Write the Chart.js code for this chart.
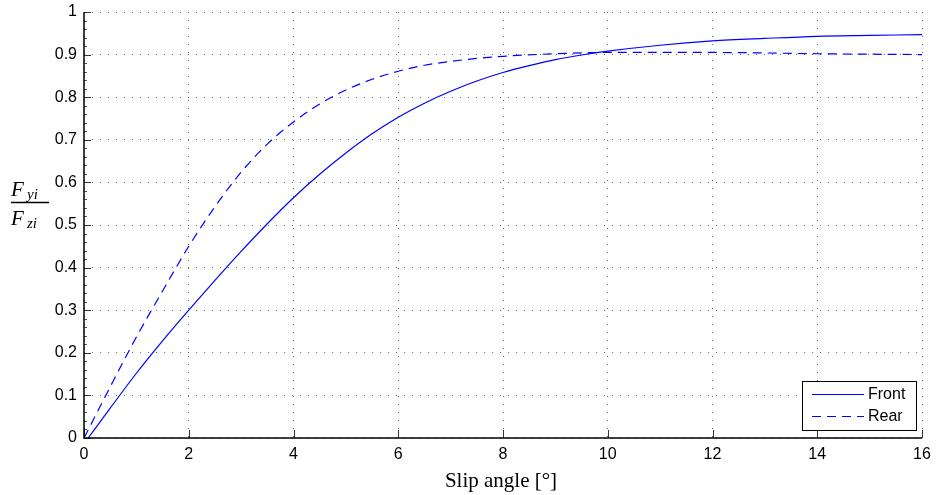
<!DOCTYPE html>
<html>
<head>
<meta charset="utf-8">
<script src="https://cdn.jsdelivr.net/npm/chart.js@4"></script>
<style>
  html, body { margin: 0; padding: 0; background: #fff; }
  #wrap { width: 936px; height: 495px; }
</style>
</head>
<body>
<div id="wrap"><canvas id="c"></canvas></div>
<script>
// slip angle [deg] and normalised lateral force
const angleFront = [0.08, 0.5, 1, 1.5, 2, 2.5, 3, 3.5, 4, 4.5, 5, 5.5, 6, 6.5, 7, 7.5, 8, 8.5, 9, 9.5, 10, 11, 12, 13, 14, 15, 16];
const front = [0, 0.07, 0.152, 0.228, 0.30, 0.37, 0.438, 0.503, 0.564, 0.619, 0.669, 0.714, 0.753, 0.786, 0.814, 0.838, 0.858, 0.874, 0.888, 0.899, 0.908, 0.922, 0.932, 0.938, 0.943, 0.945, 0.947];
const angleRear = [0, 0.5, 1, 1.5, 2, 2.5, 3, 3.5, 4, 4.5, 5, 5.5, 6, 6.5, 7, 7.5, 8, 9, 10, 12, 14, 16];
const rear = [0, 0.12, 0.237, 0.345, 0.45, 0.543, 0.624, 0.69, 0.742, 0.784, 0.817, 0.842, 0.861, 0.875, 0.884, 0.891, 0.896, 0.902, 0.905, 0.905, 0.902, 0.900];

const xTicks = [0, 2, 4, 6, 8, 10, 12, 14, 16];
const yTicks = [0, 0.1, 0.2, 0.3, 0.4, 0.5, 0.6, 0.7, 0.8, 0.9, 1];
const seriesNames = ["Front", "Rear"];

const BLUE = "#0000ff";
const SANS = '"Liberation Sans", Arial, sans-serif';
const SERIF = '"Liberation Serif", "DejaVu Serif", serif';

function pts(xs, ys) {
    return xs.map((x, i) => ({ x: x, y: ys[i] }));
}

// axes, inward ticks, y label fraction, x label, legend box
const decor = {
    id: "decor",
    afterDraw(chart) {
        const ctx = chart.ctx;
        const a = chart.chartArea;
        const xs = chart.scales.x;
        const ys = chart.scales.y;
        ctx.save();

        // minor ticks on y axis
        ctx.strokeStyle = "#555";
        ctx.lineWidth = 1;
        for (let k = 0; k <= 50; k++) {
            const py = Math.round(ys.getPixelForValue(k * 0.02)) + 0.5;
            ctx.beginPath();
            ctx.moveTo(a.left, py);
            ctx.lineTo(a.left + 3, py);
            ctx.stroke();
        }
        // major ticks
        ctx.strokeStyle = "#333";
        yTicks.forEach((v) => {
            const py = Math.round(ys.getPixelForValue(v)) + 0.5;
            ctx.beginPath();
            ctx.moveTo(a.left, py);
            ctx.lineTo(a.left + 7, py);
            ctx.stroke();
        });
        xTicks.forEach((v) => {
            const px = Math.round(xs.getPixelForValue(v)) + 0.5;
            ctx.beginPath();
            ctx.moveTo(px, a.bottom);
            ctx.lineTo(px, a.bottom - 8);
            ctx.stroke();
        });

        // axis lines (left + bottom only)
        ctx.strokeStyle = "#000";
        ctx.lineWidth = 1.5;
        ctx.beginPath();
        ctx.moveTo(a.left, a.top);
        ctx.lineTo(a.left, a.bottom);
        ctx.lineTo(a.right, a.bottom);
        ctx.stroke();

        // y label: F_yi / F_zi
        ctx.fillStyle = "#000";
        ctx.textBaseline = "alphabetic";
        ctx.textAlign = "left";
        ctx.font = "italic 21px " + SERIF;
        ctx.fillText("F", 11, 196);
        ctx.fillText("F", 11, 225);
        ctx.font = "italic 15px " + SERIF;
        ctx.fillText("yi", 27, 199);
        ctx.fillText("zi", 27, 228);
        ctx.lineWidth = 1.5;
        ctx.beginPath();
        ctx.moveTo(11, 202.5);
        ctx.lineTo(49, 202.5);
        ctx.stroke();

        // x label
        ctx.font = "21px " + SERIF;
        ctx.textAlign = "center";
        ctx.fillText("Slip angle [\u00B0]", (a.left + a.right) / 2 - 2, 487);

        // legend
        const bx = 802, by = 381, bw = 114, bh = 49;
        ctx.fillStyle = "#fff";
        ctx.fillRect(bx, by, bw, bh);
        ctx.strokeStyle = "#000";
        ctx.lineWidth = 1;
        ctx.strokeRect(bx + 0.5, by + 0.5, bw, bh);
        ctx.font = "16px " + SANS;
        ctx.textAlign = "left";
        ctx.textBaseline = "middle";
        chart.data.datasets.forEach((ds, i) => {
            const ly = by + 13 + i * 22;
            ctx.strokeStyle = BLUE;
            ctx.lineWidth = 1;
            ctx.setLineDash(ds.borderDash || []);
            ctx.beginPath();
            ctx.moveTo(bx + 10, ly + 0.5);
            ctx.lineTo(bx + 62, ly + 0.5);
            ctx.stroke();
            ctx.setLineDash([]);
            ctx.fillStyle = "#000";
            ctx.fillText(ds.label, bx + 66, ly + 1);
        });
        ctx.restore();
    },
};

new Chart(document.getElementById("c"), {
    type: "line",
    data: {
        datasets: [
            {
                label: seriesNames[0],
                data: pts(angleFront, front),
                borderColor: BLUE,
                borderWidth: 1.2,
                pointRadius: 0,
                cubicInterpolationMode: "monotone",
                fill: false,
            },
            {
                label: seriesNames[1],
                data: pts(angleRear, rear),
                borderColor: BLUE,
                borderWidth: 1.2,
                borderDash: [9, 6],
                pointRadius: 0,
                cubicInterpolationMode: "monotone",
                fill: false,
            },
        ],
    },
    options: {
        responsive: true,
        maintainAspectRatio: false,
        animation: false,
        devicePixelRatio: 1,
        layout: { padding: { left: 0, right: 14, top: 12, bottom: 0 } },
        plugins: { legend: { display: false }, tooltip: { enabled: false } },
        scales: {
            x: {
                type: "linear",
                min: 0,
                max: 16,
                afterFit: (s) => {
                    s.height = 57;
                    s.paddingLeft = 0;
                    s.paddingRight = 0;
                },
                afterBuildTicks: (s) => { s.ticks = xTicks.map((v) => ({ value: v })); },
                grid: { color: "#666", lineWidth: 1, drawTicks: false },
                border: { display: false, dash: [1, 7] },
                ticks: {
                    padding: 7,
                    color: "#000",
                    font: { family: SANS, size: 16 },
                    maxRotation: 0,
                },
            },
            y: {
                min: 0,
                max: 1,
                afterFit: (s) => {
                    s.width = 84;
                    s.paddingTop = 0;
                    s.paddingBottom = 0;
                },
                afterBuildTicks: (s) => { s.ticks = yTicks.map((v) => ({ value: v })); },
                grid: { color: "#666", lineWidth: 1, drawTicks: false },
                border: { display: false, dash: [1, 7] },
                ticks: {
                    padding: 7,
                    color: "#000",
                    font: { family: SANS, size: 16 },
                    callback: (v) => String(Math.round(v * 10) / 10),
                },
            },
        },
    },
    plugins: [decor],
});
</script>
</body>
</html>
